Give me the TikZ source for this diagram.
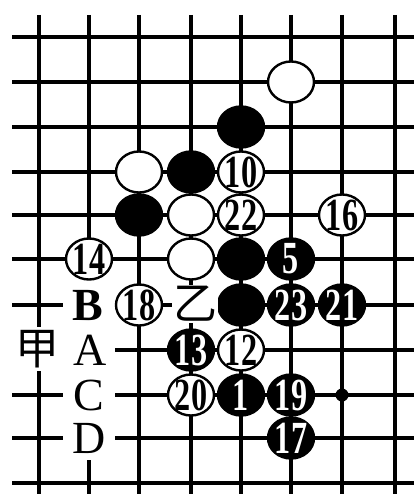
\documentclass[tikz,border=0pt]{standalone}
\usepackage{fontspec}
\setmainfont{Liberation Serif}
\newfontfamily\cjk{Noto Sans CJK SC}
\usetikzlibrary{shapes.geometric}
\newcommand\stonenum[1]{\scalebox{0.7}[1]{\fontsize{46}{46}\selectfont\bfseries #1}}
\begin{document}
\begin{tikzpicture}[x=1pt,y=-1pt,
 grid/.style={line width=3.2pt},
 stone/.style={ellipse, minimum width=46pt, minimum height=41pt, inner sep=0pt, line width=2.4pt, draw=black},
 wst/.style={stone, fill=white},
 bst/.style={stone, fill=black},
 wnum/.style={label={[inner sep=0pt]center:\stonenum{#1}}},
 bnum/.style={label={[inner sep=0pt, text=white]center:\stonenum{#1}}},
 lab/.style={font=\fontsize{46}{46}\selectfont, inner sep=0pt, text height=30pt, text depth=0pt},
 cjklab/.style={font=\cjk\fontsize{44}{44}\selectfont, fill=white},
 hoshi/.style={circle, fill=black, minimum size=13pt, inner sep=0pt}]
\useasboundingbox (0,0) rectangle (414,494);
\fill[white] (0,0) rectangle (414,494);
% vertical lines
\foreach \x in {39,139,191,241,291,342,395} \draw[grid] (\x,15) -- (\x,494);
\draw[grid] (89,15) -- (89,259);
\draw[grid] (89,460) -- (89,494);
% horizontal lines
\foreach \y in {37,82,127,172,215,259,483} \draw[grid] (12,\y) -- (414,\y);
\foreach \y in {305,395,438} \draw[grid] (12,\y) -- (63,\y);
\foreach \y in {305,350,395,438} \draw[grid] (115,\y) -- (414,\y);
% star point
\node[hoshi] (star) at (342,395) {};
% stones
\node[wst] (w1) at (291,82) {};
\node[bst] (b1) at (241,127) {};
\node[wst] (w2) at (139,172) {};
\node[bst] (b2) at (191,172) {};
\node[wst, wnum=10] (m10) at (241,172) {};
\node[bst] (b3) at (139,215) {};
\node[wst] (w3) at (191,215) {};
\node[wst, wnum=22] (m22) at (241,215) {};
\node[wst, wnum=16] (m16) at (342,215) {};
\node[wst, wnum=14] (m14) at (89,259) {};
\node[wst] (w4) at (191,259) {};
\node[bst] (b4) at (241,259) {};
\node[bst, bnum=5] (m5) at (291,259) {};
\node[wst, wnum=18] (m18) at (139,305) {};
\node[bst] (b5) at (241,305) {};
\node[bst, bnum=23] (m23) at (291,305) {};
\node[bst, bnum=21] (m21) at (342,305) {};
\node[bst, bnum=13] (m13) at (191,350) {};
\node[wst, wnum=12] (m12) at (241,350) {};
\node[wst, wnum=20] (m20) at (191,395) {};
\node[bst, bnum=1] (m1) at (241,395) {};
\node[bst, bnum=19] (m19) at (291,395) {};
\node[bst, bnum=17] (m17) at (291,438) {};
% labels
\node[lab, font=\fontsize{46}{46}\selectfont\bfseries] (lB) at (88,305) {B};
\node[lab] (lA) at (90,350) {A};
\node[lab] (lC) at (89,395) {C};
\node[lab] (lD) at (89,438) {D};
\node[cjklab, inner sep=3pt] (jia) at (37,349) {甲};
\node[cjklab, inner sep=1pt] (yi) at (195,304) {乙};
\end{tikzpicture}
\end{document}
